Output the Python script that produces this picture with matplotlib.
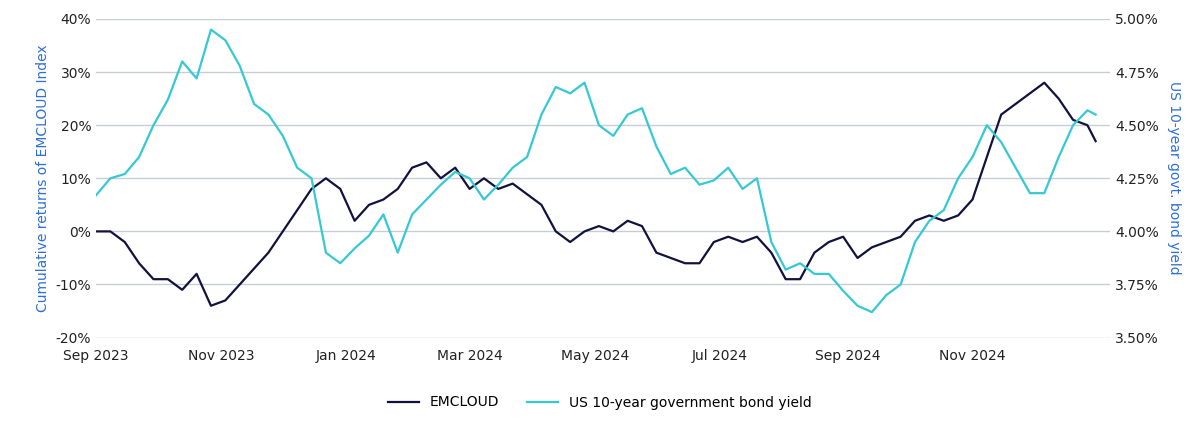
import numpy as np
import pandas as pd
import matplotlib.pyplot as plt
import matplotlib.dates as mdates
from matplotlib.ticker import FuncFormatter

# weekly readings, last point at year end
dates = list(pd.date_range('2023-09-01', periods=70, freq='7D')) + [pd.Timestamp('2024-12-31')]

emcloud = [0, 0, -2, -6, -9, -9, -11, -8, -14, -13, -10, -7, -4, 0, 4, 8, 10, 8, 2, 5,
           6, 8, 12, 13, 10, 12, 8, 10, 8, 9, 7, 5, 0, -2, 0, 1, 0, 2, 1, -4,
           -5, -6, -6, -2, -1, -2, -1, -4, -9, -9, -4, -2, -1, -5, -3, -2, -1, 2, 3, 2,
           3, 6, 14, 22, 24, 26, 28, 25, 21, 20, 17]

yield10 = [4.17, 4.25, 4.27, 4.35, 4.50, 4.62, 4.80, 4.72, 4.95, 4.90, 4.78, 4.60, 4.55, 4.45,
           4.30, 4.25, 3.90, 3.85, 3.92, 3.98, 4.08, 3.90, 4.08, 4.15, 4.22, 4.28, 4.25, 4.15,
           4.22, 4.30, 4.35, 4.55, 4.68, 4.65, 4.70, 4.50, 4.45, 4.55, 4.58, 4.40, 4.27, 4.30,
           4.22, 4.24, 4.30, 4.20, 4.25, 3.95, 3.82, 3.85, 3.80, 3.80, 3.72, 3.65, 3.62, 3.70,
           3.75, 3.95, 4.05, 4.10, 4.25, 4.35, 4.50, 4.42, 4.30, 4.18, 4.18, 4.35, 4.50, 4.57, 4.55]

tick_dates = pd.date_range('2023-09-01', '2024-11-01', freq='2MS')

navy = '#12123f'
cyan = '#35c9d3'
label_blue = '#2e6fd6'

fig, ax = plt.subplots(figsize=(12, 4.22), dpi=100)
ax2 = ax.twinx()

l1, = ax.plot(dates, emcloud, color=navy, lw=1.6, label='EMCLOUD', zorder=3)
l2, = ax2.plot(dates, yield10, color=cyan, lw=1.6, label='US 10-year government bond yield')

ax.set_ylim(-20, 40)
ax.set_yticks(range(-20, 41, 10))
ax.yaxis.set_major_formatter(FuncFormatter(lambda v, p: f'{v:.0f}%'))
ax2.set_ylim(3.5, 5.0)
ax2.set_yticks(np.arange(3.5, 5.01, 0.25))
ax2.yaxis.set_major_formatter(FuncFormatter(lambda v, p: f'{v:.2f}%'))

ax.set_xlim(pd.Timestamp('2023-09-01'), pd.Timestamp('2025-01-07'))
ax.set_xticks(tick_dates)
ax.xaxis.set_major_formatter(mdates.DateFormatter('%b %Y'))

ax.grid(axis='y', color='#c8ccd4', lw=1)
ax.set_axisbelow(True)
for a in (ax, ax2):
    for s in a.spines.values():
        s.set_visible(False)
    a.tick_params(length=0, labelsize=10, colors='#222222')
ax.tick_params(axis='x', pad=8)

ax.set_ylabel('Cumulative returns of EMCLOUD Index', color=label_blue, fontsize=10)
ax2.set_ylabel('US 10-year govt. bond yield', color=label_blue, fontsize=10, rotation=270, labelpad=16)

fig.legend(handles=[l1, l2], loc='lower center', ncol=2, frameon=False, fontsize=10,
           bbox_to_anchor=(0.5, 0.0), handlelength=2.2)

fig.subplots_adjust(left=0.08, right=0.925, top=0.955, bottom=0.2)
fig.savefig('out.png')
plt.close()
